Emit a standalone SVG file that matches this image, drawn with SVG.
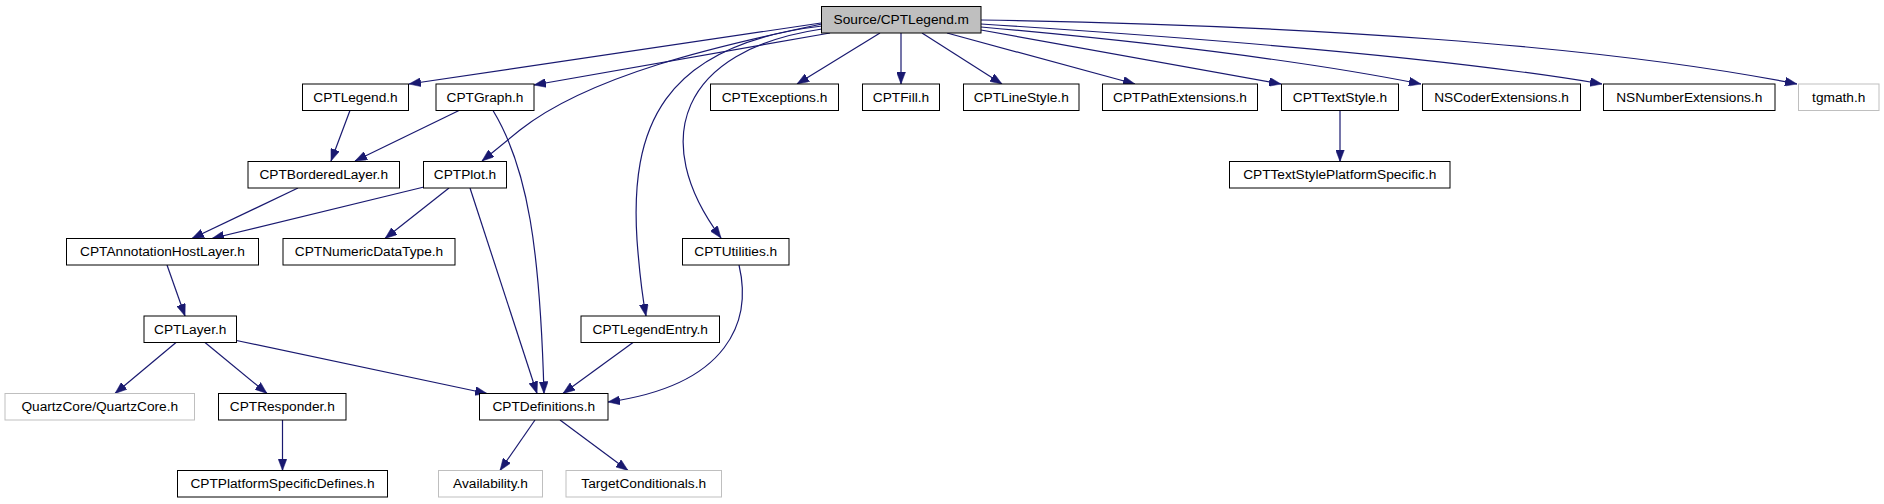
<svg xmlns="http://www.w3.org/2000/svg" width="1884" height="504" viewBox="0 0 1884 504">
<style>
.n rect{fill:#ffffff;stroke:#000000;stroke-width:1}
.n.src rect{fill:#bfbfbf}
.n.ext rect{stroke:#bfbfbf}
.n text{font-family:"Liberation Sans",Arial,sans-serif;font-size:13.7px;fill:#000000;text-anchor:middle}
#edges path{fill:none;stroke:#191970;stroke-width:1.2;marker-end:url(#arr)}
</style>
<defs>
<marker id="arr" markerUnits="userSpaceOnUse" markerWidth="12" markerHeight="9" refX="12" refY="4.5" orient="auto">
<path d="M0,0 L12,4.5 L0,9 z" fill="#191970" stroke="#191970" stroke-width="0.5"/>
</marker>
</defs>
<rect width="1884" height="504" fill="#ffffff"/>
<g id="edges">
<path d="M821,23 L409,84"/>
<path d="M830,33 L534,85"/>
<path d="M822,24 C720,45 590,75 520,130 L482,161"/>
<path d="M822,26 C660,45 630,130 637,240 C640,280 643,300 646,316"/>
<path d="M822,29 C680,50 648,140 721,238"/>
<path d="M880,33 L797,84"/>
<path d="M901,33 L901,84"/>
<path d="M922,33 L1002,84"/>
<path d="M947,33 L1135,84"/>
<path d="M981,30 L1281,84"/>
<path d="M981,27 C1150,42 1300,60 1421,84"/>
<path d="M981,24 C1200,38 1450,58 1602,84"/>
<path d="M981,20 C1300,25 1600,45 1797,84"/>
<path d="M1340,110.5 L1340,161.5"/>
<path d="M350,110.5 L331,161"/>
<path d="M459,110.5 L355,161"/>
<path d="M493,110.5 C528,168 540,250 544,393.5"/>
<path d="M298,188 L192,238.5"/>
<path d="M424,187 L212,238.5"/>
<path d="M449,188 L385,238.5"/>
<path d="M470,188 L537,393.5"/>
<path d="M167,265 L185,316"/>
<path d="M176,342.5 L115,393.5"/>
<path d="M205,342.5 L267,393.5"/>
<path d="M236.5,340.5 L487,393.5"/>
<path d="M282.5,420 L282.5,470.5"/>
<path d="M633,342.5 L563,393.5"/>
<path d="M739,265 C752,320 730,385 608,402"/>
<path d="M535,420 L500,470.5"/>
<path d="M560,420 L628,470.5"/>
</g>
<g id="node-src" class="n src"><rect x="821.5" y="6.5" width="159.5" height="26.5"/><text x="901.25" y="24.2">Source/CPTLegend.m</text></g>
<g id="node-legend" class="n"><rect x="302.5" y="84" width="106" height="26.5"/><text x="355.5" y="101.7">CPTLegend.h</text></g>
<g id="node-graph" class="n"><rect x="436" y="84" width="98" height="26.5"/><text x="485" y="101.7">CPTGraph.h</text></g>
<g id="node-exceptions" class="n"><rect x="710.5" y="84" width="128" height="26.5"/><text x="774.5" y="101.7">CPTExceptions.h</text></g>
<g id="node-fill" class="n"><rect x="862.5" y="84" width="77" height="26.5"/><text x="901" y="101.7">CPTFill.h</text></g>
<g id="node-linestyle" class="n"><rect x="963.5" y="84" width="115.5" height="26.5"/><text x="1021.25" y="101.7">CPTLineStyle.h</text></g>
<g id="node-pathext" class="n"><rect x="1102.5" y="84" width="155" height="26.5"/><text x="1180" y="101.7">CPTPathExtensions.h</text></g>
<g id="node-textstyle" class="n"><rect x="1281.5" y="84" width="117" height="26.5"/><text x="1340" y="101.7">CPTTextStyle.h</text></g>
<g id="node-nscoder" class="n"><rect x="1422.5" y="84" width="158" height="26.5"/><text x="1501.5" y="101.7">NSCoderExtensions.h</text></g>
<g id="node-nsnumber" class="n"><rect x="1603.5" y="84" width="171.5" height="26.5"/><text x="1689.25" y="101.7">NSNumberExtensions.h</text></g>
<g id="node-tgmath" class="n ext"><rect x="1798.5" y="84" width="80.5" height="26.5"/><text x="1838.75" y="101.7">tgmath.h</text></g>
<g id="node-bordered" class="n"><rect x="248" y="161.5" width="151.5" height="26.5"/><text x="323.75" y="179.2">CPTBorderedLayer.h</text></g>
<g id="node-plot" class="n"><rect x="423.5" y="161.5" width="83" height="26.5"/><text x="465" y="179.2">CPTPlot.h</text></g>
<g id="node-tsps" class="n"><rect x="1229.5" y="161.5" width="220.5" height="26.5"/><text x="1339.75" y="179.2">CPTTextStylePlatformSpecific.h</text></g>
<g id="node-annot" class="n"><rect x="66.5" y="238.5" width="192" height="26.5"/><text x="162.5" y="256.2">CPTAnnotationHostLayer.h</text></g>
<g id="node-numeric" class="n"><rect x="283" y="238.5" width="172" height="26.5"/><text x="369" y="256.2">CPTNumericDataType.h</text></g>
<g id="node-utilities" class="n"><rect x="682.5" y="238.5" width="106.5" height="26.5"/><text x="735.75" y="256.2">CPTUtilities.h</text></g>
<g id="node-layer" class="n"><rect x="144" y="316" width="92.5" height="26.5"/><text x="190.25" y="333.7">CPTLayer.h</text></g>
<g id="node-legendentry" class="n"><rect x="581" y="316" width="138.5" height="26.5"/><text x="650.25" y="333.7">CPTLegendEntry.h</text></g>
<g id="node-quartz" class="n ext"><rect x="5" y="393.5" width="189.5" height="26.5"/><text x="99.75" y="411.2">QuartzCore/QuartzCore.h</text></g>
<g id="node-responder" class="n"><rect x="218.5" y="393.5" width="127.5" height="26.5"/><text x="282.25" y="411.2">CPTResponder.h</text></g>
<g id="node-definitions" class="n"><rect x="479.5" y="393.5" width="128.5" height="26.5"/><text x="543.75" y="411.2">CPTDefinitions.h</text></g>
<g id="node-psd" class="n"><rect x="177.5" y="470.5" width="210" height="26.5"/><text x="282.5" y="488.2">CPTPlatformSpecificDefines.h</text></g>
<g id="node-availability" class="n ext"><rect x="438.5" y="470.5" width="104" height="26.5"/><text x="490.5" y="488.2">Availability.h</text></g>
<g id="node-targetcond" class="n ext"><rect x="566" y="470.5" width="155.5" height="26.5"/><text x="643.75" y="488.2">TargetConditionals.h</text></g>
</svg>
